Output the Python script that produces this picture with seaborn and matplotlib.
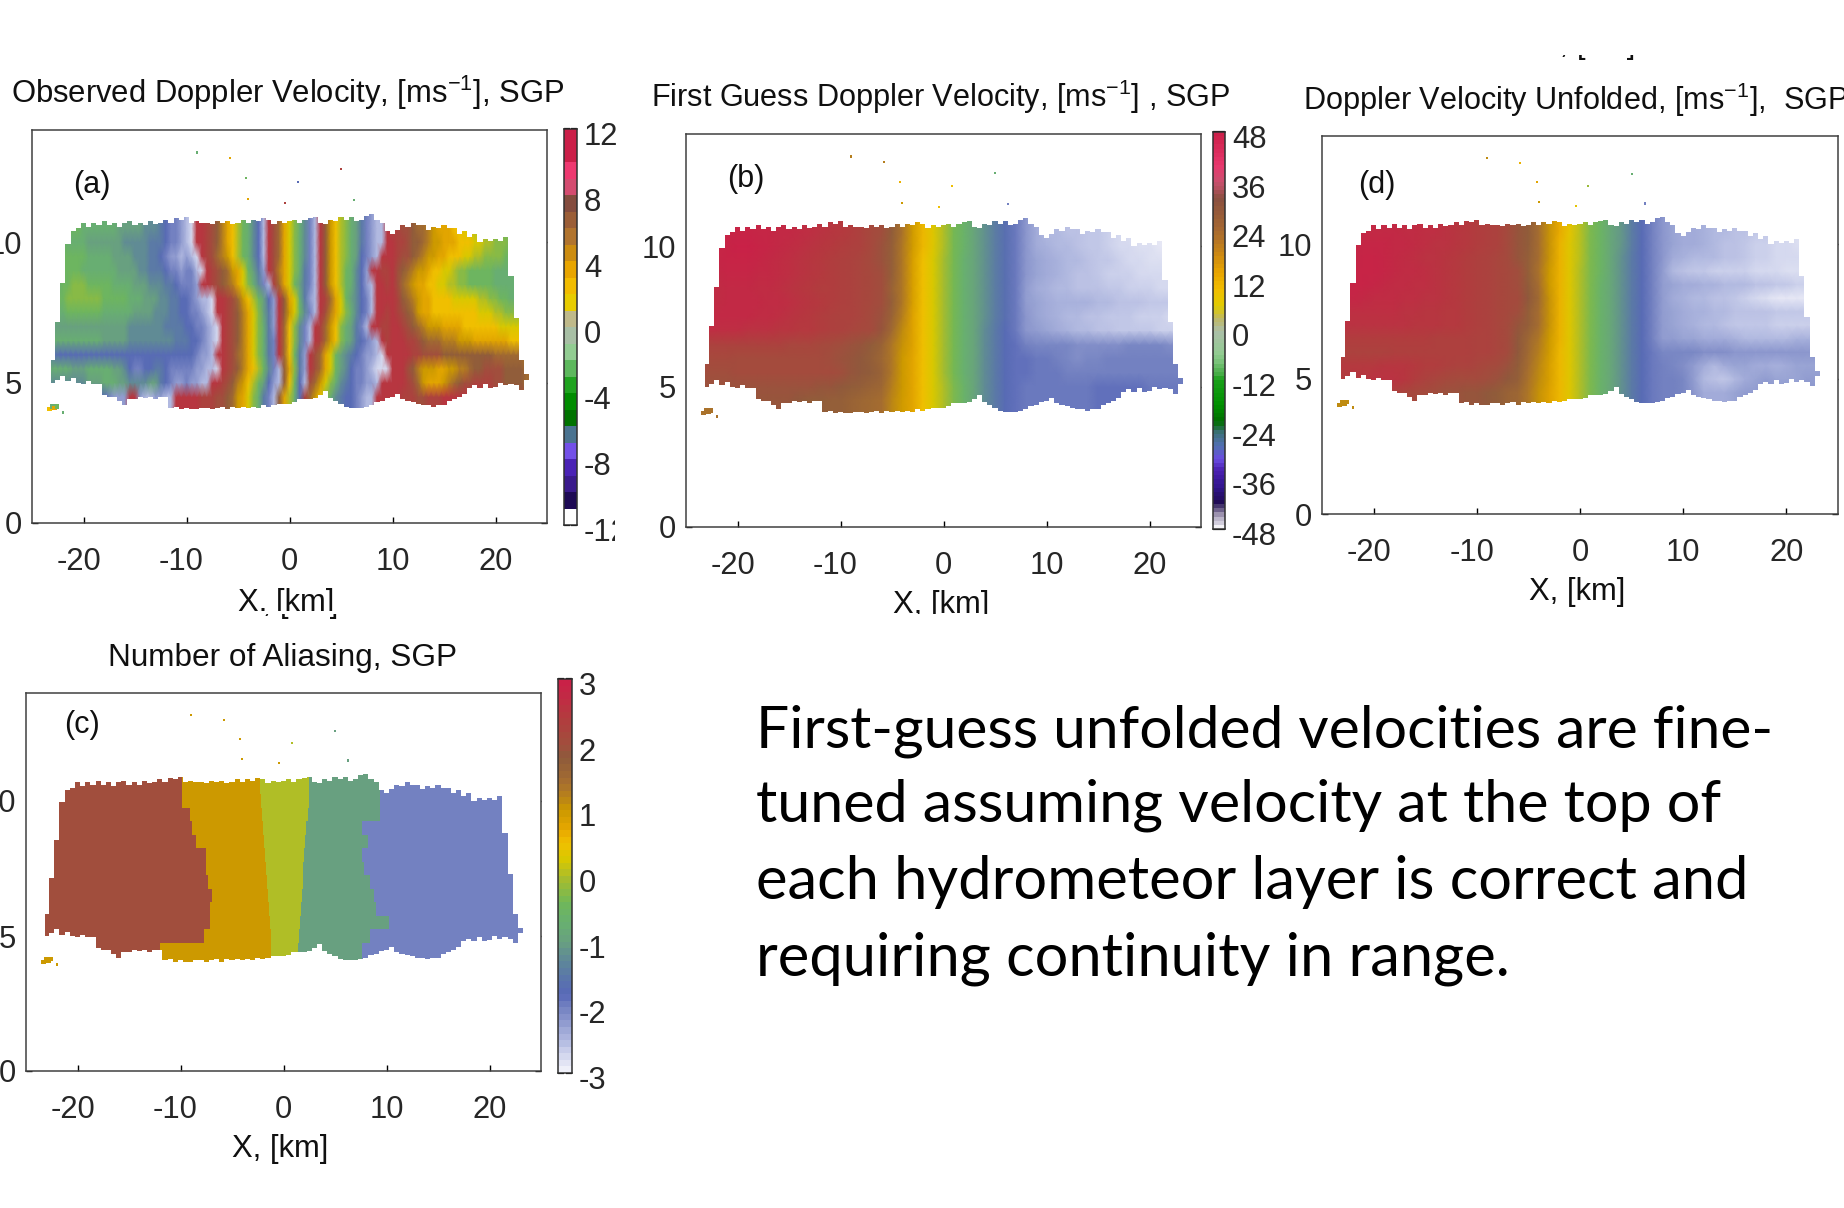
import numpy as np
import matplotlib
matplotlib.use("Agg")
import matplotlib.pyplot as plt
import seaborn as sns
from matplotlib.colors import LinearSegmentedColormap, ListedColormap
from matplotlib.transforms import Bbox, TransformedBbox, ScaledTranslation

W, H = 1844, 1208

sns.set_style("white")
plt.rcParams["font.family"] = ["Liberation Sans", "DejaVu Sans"]
plt.rcParams["mathtext.fontset"] = "custom"
plt.rcParams["mathtext.rm"] = "Liberation Sans"
plt.rcParams["mathtext.default"] = "rm"

# cloud outline, x = -23 ... 23 km every 0.5 km
cloud_top = [5.8, 7.15, 8.55, 9.95, 10.4, 10.5, 10.7, 10.55, 10.7, 10.6, 10.75, 10.6, 10.7, 10.55, 10.7, 10.75, 10.6, 10.7, 10.6, 10.75, 10.65, 10.7, 10.8, 10.7, 10.85, 10.8,
             10.9, 10.7, 10.75, 10.7, 10.7, 10.65, 10.75, 10.7, 10.75, 10.65, 10.7, 10.8, 10.7, 10.8, 10.75, 10.85, 10.8, 10.65, 10.75, 10.7, 10.75, 10.8, 10.7, 10.8, 10.85, 10.9, 10.7, 10.65, 10.8, 10.75, 10.9, 10.8, 10.9, 10.75, 10.8, 10.95, 11.0, 10.8, 10.7, 10.4,
             10.3, 10.45, 10.6, 10.55, 10.7, 10.6, 10.6, 10.45, 10.55, 10.5, 10.6, 10.5, 10.5, 10.3, 10.4, 10.2, 10.3, 10.0, 10.1, 10.05, 10.1, 10.05, 10.2, 8.8, 7.3, 5.8, 5.3]
cloud_base = [5.0, 5.1, 5.25, 5.05, 5.15, 5.0, 4.95, 5.05, 4.95, 4.95, 4.55, 4.5, 4.5, 4.35, 4.2, 4.4, 4.4, 4.5, 4.45, 4.5, 4.4, 4.5, 4.5, 4.1, 4.15, 4.05,
              4.1, 4.05, 4.05, 4.1, 4.1, 4.05, 4.1, 4.15, 4.05, 4.15, 4.1, 4.15, 4.1, 4.15, 4.1, 4.2, 4.15, 4.2, 4.25, 4.25, 4.25, 4.3, 4.4, 4.4, 4.4, 4.45, 4.55, 4.7, 4.45, 4.35, 4.25, 4.15, 4.1, 4.1, 4.1, 4.15, 4.2, 4.3, 4.35, 4.45,
              4.5, 4.6, 4.4, 4.35, 4.3, 4.25, 4.2, 4.2, 4.15, 4.2, 4.2, 4.35, 4.4, 4.5, 4.6, 4.8, 4.9, 4.8, 4.95, 4.8, 4.85, 5.0, 4.9, 4.95, 4.9, 4.75, 5.1]

speck_x = [-9.0, -5.8, 5.0, -4.2, 0.8, -4.0, -0.4, 6.3, -23.3, -23.0, -22.8, -22.6, -22.0]
speck_y = [13.2, 13.0, 12.6, 12.3, 12.15, 11.55, 11.4, 11.5, 4.05, 4.15, 4.1, 4.15, 3.95]
speck_a = [-3, 3, 9, -2, -7, 3, 9, -3, 2, -3, 3, -2, -3]
speck_b = [20, 20, -12, 10, 8, 16, 8, -32, 22, 22, 22, 22, 22]
speck_c = [1, 1, -1, 1, 0, 1, 1, -1, 1, 1, 1, 1, 1]
speck_d = [18, 10, -12, 12, -2, 16, 6, -32, 18, 18, 18, 18, 18]
speck_sizes = [2.5, 2.5, 2.5, 2.5, 2.5, 2.5, 2.5, 2.5, 9, 12, 12, 9, 4]

# panel (a) heights 10.5 ... 4.5 km every 0.5 km; split at x = -10 and x = 10
a_west = [
    [-2, -2, -2, -2, -2, -2, -3, -3, -3, -3, -3, -3, -3, -4, -4, -4, -4, -4, -5, -5, -5, -6, -7, -8, -8, -9],
    [-2, -2, -2, -3, -3, -3, -3, -4, -4, -4, -4, -4, -4, -4, -5, -5, -5, -5, -5, -6, -6, -6, -7, -8, -8, -9],
    [-2, -2, -2, -2, -2, -2, -2, -3, -3, -3, -3, -3, -4, -4, -4, -4, -5, -5, -5, -6, -6, -7, -8, -9, -9, -10],
    [-3, -3, -2, -2, -2, -2, -3, -3, -3, -3, -3, -3, -3, -4, -4, -4, -4, -5, -5, -6, -6, -6, -7, -8, -8, -9],
    [-3, -3, -2, -2, -1, -1, -1, -2, -2, -2, -2, -2, -3, -3, -3, -3, -4, -4, -4, -5, -5, -5, -6, -6, -7, -8],
    [-2, -2, -2, -1, -1, -1, -1, -1, -1, -1, -2, -2, -2, -2, -2, -3, -3, -3, -4, -4, -4, -5, -5, -6, -6, -7],
    [-3, -3, -3, -2, -2, -2, -2, -2, -2, -2, -3, -3, -3, -3, -3, -3, -4, -4, -4, -4, -5, -5, -5, -6, -6, -7],
    [-4, -4, -4, -4, -4, -4, -4, -4, -4, -4, -4, -4, -4, -4, -4, -5, -5, -5, -5, -5, -5, -5, -6, -6, -6, -6],
    [-3, -3, -3, -3, -3, -3, -3, -3, -3, -3, -4, -4, -4, -4, -4, -5, -5, -5, -5, -5, -5, -5, -5, -5, -6, -6],
    [-6, -7, -7, -7, -7, -7, -7, -7, -7, -7, -7, -7, -7, -7, -7, -7, -7, -7, -7, -7, -7, -7, -7, -7, -7, -7],
    [-3, -3, -3, -3, -4, -4, -4, -3, -3, -3, -3, -3, -4, -4, -5, -7, -8, -8, -7, -7, -6, -6, -7, -8, -8, -8],
    [-5, -5, -5, -5, -5, -5, -5, -4, -4, -4, -3, -3, -3, -4, -4, -5, -5, -5, -5, -4, -4, -6, -7, -8, -9, -9],
    [-8, -8, -8, -8, -8, -8, -8, -8, -7, -7, -7, -8, -9, -9, -9, 10, 10, -9, -10, -10, -9, -9, -10, -10, 10, 10],
]
a_mid = [
    [-10, -11, 10, 10, 9, 8, 7, 5, 3, 2, 0, -2, -3, -5, -7, -10, 10, 8, 6, 3, 1, -1, -3, -5, -8, -10, 10, 7, 4, 2, 0, -1, -3, -4, -6, -8, -9, -10, -10, 10],
    [-10, -11, 10, 10, 9, 8, 7, 5, 3, 2, 0, -2, -3, -5, -7, -10, 10, 8, 6, 3, 1, -1, -3, -5, -8, -10, 10, 7, 4, 2, 0, -1, -3, -4, -6, -8, -9, -10, -10, 10],
    [-9, -10, -11, 10, 9, 8, 6, 5, 4, 2, 0, -2, -3, -5, -7, -10, 10, 8, 6, 3, 1, -1, -3, -5, -8, -10, 10, 7, 4, 2, 0, -1, -3, -4, -7, -8, -9, -10, 10, 10],
    [-8, -8, -10, -11, 10, 9, 8, 7, 6, 4, 3, 1, -2, -4, -6, -9, 10, 8, 5, 3, 1, -1, -3, -6, -8, -10, 10, 7, 4, 2, 0, -2, -3, -5, -7, -9, 10, 10, 9, 9],
    [-8, -8, -9, 10, 10, 9, 8, 7, 6, 5, 3, 1, -1, -3, -5, -8, -10, 9, 6, 3, 1, -2, -4, -6, -8, -10, 10, 7, 4, 2, 0, -2, -3, -5, -7, -9, -10, 10, 10, 9],
    [-7, -8, -9, -10, -10, -11, 10, 10, 9, 8, 6, 4, 2, 0, -2, -4, -7, -9, 10, 7, 3, 1, -3, -6, -9, -10, 10, 9, 6, 3, 1, -2, -4, -5, -7, -8, -10, 10, 10, 10],
    [-7, -8, -8, -9, -10, -11, 10, 10, 9, 8, 7, 5, 3, 1, -1, -4, -6, -9, 10, 7, 4, 1, -2, -5, -8, -10, 10, 8, 5, 3, 1, -1, -3, -5, -7, -8, -10, 10, 10, 9],
    [-7, -7, -8, -8, -9, -10, -11, 10, 9, 8, 7, 5, 3, 1, -1, -3, -6, -9, 10, 6, 2, -1, -5, -8, -10, 10, 9, 6, 4, 2, -1, -3, -4, -6, -8, -10, 10, 10, 9, 9],
    [-6, -7, -7, -8, -9, -10, -11, 10, 9, 8, 7, 5, 3, 1, -1, -3, -6, -8, 10, 6, 2, -1, -5, -8, -10, 10, 9, 6, 4, 2, -1, -3, -4, -6, -7, -8, -9, -10, 10, 9],
    [-7, -7, -8, -9, -9, -10, 10, 10, 9, 8, 6, 5, 3, 1, -1, -3, -6, -8, 10, 6, 2, -2, -6, -9, 10, 8, 6, 3, 1, -2, -4, -5, -6, -7, -8, -9, -9, -10, -11, 10],
    [-8, -8, -9, -9, -10, -10, -11, 10, 9, 8, 7, 5, 3, 2, 0, -2, -5, -8, -10, 7, 3, -1, -6, -9, 10, 8, 6, 3, 1, -2, -4, -5, -7, -8, -8, -9, -10, -11, -11, -11],
    [-8, -9, -9, -10, -10, 10, 10, 9, 8, 7, 5, 4, 2, 0, -2, -4, -7, -9, -10, 7, 2, -2, -7, -10, 8, 6, 4, 1, -1, -3, -5, -6, -7, -8, -8, -9, -9, -10, 10, 10],
    [10, 10, 10, 9, 9, 9, 8, 8, 7, 6, 4, 3, 1, -1, -3, -6, -8, -10, 7, 3, 0, -3, -7, 9, 6, 4, 2, -1, -3, -5, -6, -7, -7, -8, -9, -10, -10, 10, 10, 10],
]
a_east = [
    [9, 9, 8, 8, 7, 6, 6, 5, 4, 3, 3, 3, 2, 2, 1, 1, 0, 0, -1, -1, -1, -2, -2, -2, -2, -2, -2],
    [10, 9, 9, 8, 7, 7, 6, 5, 4, 4, 3, 3, 3, 2, 2, 2, 1, 1, 0, 0, -1, -1, -1, -2, -2, -2, -2],
    [10, 9, 8, 8, 7, 6, 5, 4, 4, 3, 3, 2, 2, 2, 1, 1, 0, 0, -1, -1, -1, -1, -2, -2, -2, -2, -2],
    [10, 8, 7, 6, 5, 4, 4, 3, 2, 2, 1, 1, 0, -1, -1, -2, -2, -2, -2, -2, -3, -3, -3, -3, -3, -3, -3],
    [10, 8, 6, 5, 4, 3, 3, 2, 2, 1, 1, 0, 0, -1, -1, -2, -2, -2, -2, -2, -3, -3, -3, -3, -3, -3, -3],
    [10, 9, 7, 6, 5, 4, 3, 3, 2, 2, 2, 2, 1, 1, 1, 1, 1, 0, 0, -1, -1, -2, -2, -3, -3, -3, -3],
    [10, 9, 8, 7, 6, 4, 3, 3, 2, 2, 2, 2, 2, 2, 2, 2, 2, 1, 1, 1, 0, 0, -1, -1, -1, -1, -1],
    [10, 10, 9, 8, 7, 6, 5, 4, 4, 4, 3, 3, 3, 3, 2, 2, 2, 2, 2, 2, 2, 1, 1, 1, 1, 1, 1],
    [10, 10, 10, 9, 9, 8, 7, 6, 6, 6, 5, 5, 5, 4, 4, 4, 3, 3, 3, 3, 3, 3, 3, 2, 2, 2, 2],
    [10, 10, 10, 10, 9, 9, 8, 8, 8, 8, 7, 7, 7, 7, 7, 7, 7, 7, 7, 7, 6, 6, 6, 6, 6, 6, 5],
    [10, 10, 10, 8, 7, 5, 4, 4, 4, 3, 3, 4, 4, 5, 5, 6, 7, 7, 8, 8, 8, 8, 7, 7, 7, 7, 6],
    [10, 10, 10, 9, 8, 6, 4, 3, 3, 3, 4, 5, 6, 7, 8, 8, 9, 9, 9, 9, 8, 8, 7, 7, 7, 7, 6],
    [10, 10, 9, 9, 9, 8, 8, 9, 9, 9, 10, 10, 10, 10, 10, 10, 10, 10, 10, 9, 9, 9, 9, 9, 8, 8, 8],
]

# panel (b) heights 10.5 ... 4.5 km, x = -23 ... 23 km every 1 km; split at x = -5 and x = 9
b_west = [
    [46, 46, 46, 46, 46, 45, 45, 44, 44, 43, 42, 41, 40, 39, 38, 36, 34, 32],
    [46, 46, 46, 47, 47, 46, 45, 44, 43, 42, 41, 40, 39, 38, 37, 36, 34, 31],
    [45, 45, 46, 46, 46, 45, 44, 43, 42, 41, 40, 39, 38, 37, 36, 35, 33, 31],
    [44, 44, 45, 45, 45, 44, 44, 43, 42, 41, 40, 39, 38, 37, 36, 35, 34, 32],
    [43, 43, 44, 44, 44, 43, 43, 42, 41, 40, 39, 38, 38, 37, 36, 35, 34, 32],
    [43, 43, 44, 44, 44, 44, 43, 43, 42, 41, 40, 39, 38, 37, 36, 35, 34, 32],
    [44, 44, 44, 44, 44, 43, 43, 42, 41, 40, 39, 38, 37, 36, 36, 35, 33, 31],
    [42, 42, 42, 42, 41, 41, 41, 40, 40, 39, 39, 38, 37, 36, 35, 34, 33, 30],
    [36, 36, 36, 36, 36, 36, 36, 36, 35, 35, 35, 34, 33, 32, 31, 30, 28, 26],
    [34, 34, 34, 33, 33, 33, 33, 33, 33, 33, 33, 33, 32, 31, 30, 29, 27, 25],
    [32, 32, 32, 33, 33, 33, 33, 33, 33, 33, 33, 33, 33, 32, 30, 29, 28, 26],
    [31, 31, 31, 31, 31, 31, 31, 31, 31, 31, 31, 30, 30, 29, 28, 27, 26, 25],
    [30, 30, 30, 30, 30, 30, 30, 30, 30, 29, 28, 28, 27, 27, 26, 25, 24, 23],
]
b_mid = [
    [28, 22, 15, 9, 5, 0, -6, -10, -15, -19, -23, -27, -31, -35],
    [27, 21, 15, 9, 5, 0, -6, -10, -15, -19, -23, -27, -31, -35],
    [27, 21, 14, 8, 4, -1, -6, -11, -15, -19, -23, -27, -31, -35],
    [27, 21, 14, 8, 4, -1, -6, -11, -15, -19, -23, -27, -31, -35],
    [26, 21, 14, 8, 4, -1, -6, -11, -15, -19, -23, -27, -31, -36],
    [27, 21, 14, 8, 4, -1, -6, -11, -15, -19, -23, -27, -31, -36],
    [26, 20, 13, 8, 4, -1, -6, -11, -15, -19, -23, -27, -31, -35],
    [24, 18, 13, 8, 4, -1, -6, -11, -15, -20, -24, -28, -31, -35],
    [21, 17, 13, 8, 4, -1, -6, -11, -15, -20, -24, -28, -30, -32],
    [21, 16, 12, 8, 4, -1, -6, -11, -15, -20, -24, -28, -30, -30],
    [21, 16, 12, 8, 4, -1, -6, -11, -15, -20, -24, -28, -30, -30],
    [20, 16, 12, 8, 4, 0, -5, -10, -15, -20, -24, -28, -30, -31],
    [19, 15, 12, 8, 4, 0, -5, -10, -15, -20, -24, -28, -30, -31],
]
b_east = [
    [-38, -40, -40, -41, -41, -42, -42, -43, -44, -45, -45, -46, -46, -46, -46],
    [-38, -39, -40, -40, -41, -42, -42, -43, -44, -44, -45, -45, -46, -46, -46],
    [-37, -38, -39, -40, -40, -41, -42, -42, -43, -44, -44, -45, -45, -45, -45],
    [-37, -38, -39, -40, -41, -41, -42, -43, -43, -43, -44, -44, -44, -44, -44],
    [-38, -39, -40, -40, -41, -41, -41, -42, -42, -43, -43, -43, -44, -44, -44],
    [-37, -38, -39, -39, -39, -39, -40, -40, -41, -41, -41, -42, -42, -42, -42],
    [-37, -38, -39, -40, -40, -41, -41, -42, -42, -42, -43, -43, -43, -44, -44],
    [-36, -37, -38, -39, -40, -40, -41, -41, -42, -42, -42, -42, -43, -43, -43],
    [-33, -33, -33, -33, -34, -34, -34, -34, -34, -33, -33, -33, -33, -34, -34],
    [-31, -31, -32, -33, -34, -33, -33, -32, -32, -32, -32, -32, -32, -32, -32],
    [-31, -31, -31, -32, -32, -32, -32, -32, -32, -32, -32, -32, -32, -32, -32],
    [-31, -31, -31, -31, -31, -31, -30, -30, -30, -30, -30, -31, -31, -31, -31],
    [-31, -31, -31, -31, -31, -31, -30, -30, -30, -30, -30, -31, -31, -31, -31],
]

# panel (d), same grid as (b)
d_west = [
    [44, 44, 44, 44, 44, 44, 43, 43, 42, 42, 41, 40, 39, 38, 37, 36, 33, 30],
    [45, 45, 45, 45, 45, 44, 44, 43, 42, 41, 41, 40, 39, 38, 37, 36, 33, 30],
    [45, 45, 46, 46, 45, 44, 43, 42, 41, 41, 40, 39, 38, 37, 36, 35, 33, 30],
    [46, 46, 46, 46, 45, 44, 43, 43, 42, 41, 40, 39, 38, 37, 36, 35, 34, 32],
    [45, 46, 46, 45, 44, 43, 43, 42, 42, 41, 40, 39, 38, 37, 36, 35, 34, 32],
    [44, 45, 44, 43, 43, 43, 42, 42, 41, 41, 40, 39, 38, 37, 36, 35, 34, 33],
    [42, 42, 42, 42, 42, 42, 41, 41, 40, 40, 39, 39, 38, 37, 36, 35, 34, 32],
    [41, 41, 41, 41, 41, 41, 41, 40, 40, 40, 39, 39, 38, 37, 36, 35, 33, 30],
    [38, 38, 38, 38, 38, 38, 38, 38, 38, 37, 37, 37, 37, 36, 36, 35, 33, 29],
    [36, 36, 36, 36, 36, 37, 37, 37, 37, 37, 37, 37, 37, 36, 36, 35, 33, 29],
    [39, 39, 39, 39, 40, 40, 40, 39, 38, 38, 37, 36, 36, 35, 34, 33, 31, 28],
    [38, 39, 40, 41, 41, 41, 40, 38, 36, 35, 34, 33, 33, 33, 32, 31, 29, 27],
    [36, 36, 36, 36, 36, 36, 35, 34, 33, 32, 31, 31, 30, 30, 29, 28, 26, 25],
]
d_mid = [
    [28, 23, 17, 11, 6, 1, -5, -9, -14, -18, -23, -28, -32, -35],
    [28, 23, 17, 10, 5, 1, -5, -9, -14, -18, -23, -28, -32, -35],
    [27, 23, 17, 10, 5, 1, -5, -9, -14, -19, -24, -28, -32, -35],
    [27, 22, 16, 10, 5, 0, -5, -9, -14, -19, -24, -28, -32, -36],
    [28, 23, 16, 10, 5, 0, -5, -10, -14, -19, -24, -28, -32, -36],
    [29, 24, 17, 10, 5, 0, -5, -10, -14, -19, -24, -28, -32, -36],
    [27, 23, 17, 10, 5, 0, -5, -10, -14, -19, -24, -28, -32, -36],
    [27, 23, 17, 10, 5, 0, -5, -10, -14, -19, -24, -28, -32, -36],
    [25, 21, 16, 10, 5, 0, -5, -10, -14, -19, -24, -28, -32, -36],
    [24, 20, 15, 9, 5, 0, -5, -10, -14, -19, -24, -28, -31, -33],
    [23, 19, 14, 9, 5, 0, -5, -10, -14, -19, -24, -28, -31, -32],
    [22, 18, 14, 9, 5, 0, -5, -10, -14, -19, -24, -28, -31, -32],
    [21, 17, 13, 9, 5, 0, -5, -10, -14, -19, -24, -28, -31, -32],
]
d_east = [
    [-37, -38, -38, -39, -40, -40, -41, -41, -42, -42, -43, -44, -45, -45, -45],
    [-37, -38, -38, -39, -40, -41, -41, -42, -43, -43, -44, -44, -45, -45, -45],
    [-38, -39, -40, -40, -40, -41, -41, -42, -43, -43, -44, -44, -44, -44, -44],
    [-40, -41, -42, -42, -43, -43, -43, -43, -44, -44, -44, -45, -45, -45, -45],
    [-37, -38, -38, -39, -39, -40, -40, -40, -41, -41, -42, -42, -43, -43, -43],
    [-38, -39, -40, -40, -41, -41, -42, -43, -44, -45, -46, -46, -46, -46, -46],
    [-37, -38, -39, -39, -40, -40, -41, -41, -41, -41, -42, -42, -42, -42, -42],
    [-37, -38, -39, -40, -40, -41, -42, -42, -42, -42, -43, -43, -43, -43, -43],
    [-36, -37, -37, -38, -38, -38, -39, -40, -40, -40, -40, -40, -39, -39, -39],
    [-33, -33, -33, -34, -34, -34, -35, -35, -35, -35, -35, -35, -35, -35, -35],
    [-33, -34, -36, -38, -40, -38, -37, -37, -38, -38, -39, -38, -37, -37, -37],
    [-32, -33, -36, -40, -41, -42, -40, -38, -37, -36, -37, -37, -37, -36, -36],
    [-32, -33, -35, -38, -38, -38, -37, -36, -36, -35, -35, -35, -35, -35, -35],
]

# panel (c): x where the aliasing number steps down, heights 10.5 ... 4.5 km
edge_2_1 = [-9.9, -9.9, -9.1, -8.9, -8.5, -7.5, -7.5, -7.3, -6.9, -7.1, -7.1, -7.7, -12.0]
edge_1_0 = [-2.3, -2.2, -2.1, -2.0, -1.9, -1.8, -1.7, -1.6, -1.5, -1.4, -1.3, -1.2, -1.2]
edge_0_m1 = [2.5, 2.5, 2.4, 2.2, 2.1, 2.0, 1.9, 1.9, 1.8, 1.7, 1.6, 1.5, 1.4]
edge_m1_m2 = [9.4, 9.4, 9.4, 7.6, 8.2, 7.6, 7.8, 8.4, 8.8, 9.0, 10.2, 8.4, 7.6]

field_stops = [(-3, "#F6F6FC"), (-2.5, "#B0B8E0"), (-2, "#7280C0"), (-1.8, "#5868B8"), (-1.4, "#5C80A0"),
               (-1, "#68A080"), (-0.7, "#68B070"), (-0.4, "#70B858"), (0, "#AEBD28"), (0.25, "#D8C800"),
               (0.5, "#F0C000"), (0.7, "#E8A800"), (1, "#CC9900"), (1.4, "#A8702E"), (1.8, "#8E5A3C"),
               (2, "#A04F3D"), (2.4, "#B23C3E"), (2.7, "#C02C44"), (3, "#CB1F48")]
bar_a_colors = ["#CB1F48", "#CB1F48", "#EE3970", "#D44C70", "#844C3E", "#9B5E37", "#B1742E", "#CC8C10",
                "#E8A500", "#F2BC00", "#E8CC00", "#BFB98A", "#A8BFA5", "#92CC92", "#5DB85D", "#1FA31F",
                "#008C00", "#007300", "#4A7390", "#7350E8", "#4A22B5", "#3A1A8C", "#1E0A55", "#FFFFFF"]
bar_b_stops = [(-48, "#FFFFFF"), (-47, "#E0DDE8"), (-44, "#8A7FA0"), (-42, "#1E0A50"), (-38, "#30148C"),
               (-34, "#4A20B0"), (-31, "#6A4CE0"), (-28, "#5070B0"), (-25, "#3F7080"), (-22, "#006E00"),
               (-18, "#009000"), (-12, "#18A018"), (-10, "#50B050"), (-6, "#90CC90"), (0, "#ACBFA8"),
               (3, "#C0B860"), (6, "#E0CC00"), (10, "#F2BE00"), (14, "#E8A500"), (18, "#D08C10"),
               (24, "#A86A30"), (32, "#8A5040"), (36, "#C8506E"), (40, "#E8386E"), (48, "#CB1F48")]

field_cmap = LinearSegmentedColormap.from_list("field", [((v + 3) / 6, c) for v, c in field_stops])
bar_b_cmap = LinearSegmentedColormap.from_list("bar_b", [((v + 48) / 96, c) for v, c in bar_b_stops])
bar_a_cmap = ListedColormap(bar_a_colors[::-1])

x_half = np.arange(-23, 23.5, 0.5)
x_half_wide = np.arange(-23.5, 24, 0.5)
x_fine = np.arange(-23.25, 23.3, 0.1)
x_one = np.arange(-24, 25)
rows_km = np.arange(4, 11.5, 0.5)


def stack_rows(*parts):
    table = np.hstack([np.array(p, float) for p in parts])[::-1]
    # top and bottom row repeat the nearest read row, end columns the nearest read column
    table = np.vstack([table[:1], table, table[-1:]])
    return np.pad(table, ((0, 0), (1, 1)), mode="edge")


table_a = stack_rows(a_west, a_mid, a_east)
table_b = stack_rows(b_west, b_mid, b_east)
table_d = stack_rows(d_west, d_mid, d_east)

edges = np.array([edge_2_1, edge_1_0, edge_0_m1, edge_m1_m2])[:, ::-1]
edges = np.hstack([edges[:, :1], edges, edges[:, -1:]])
table_c = np.array([2.0 - np.sum(x_fine[None, :] > edges[:, i][:, None], axis=0) for i in range(len(rows_km))])

fig = plt.figure(figsize=(W / 100, H / 100), dpi=100)
FS = 22.3


def px_axes(x0, y0, x1, y1):
    return fig.add_axes([x0 / W, 1 - y1 / H, (x1 - x0) / W, (y1 - y0) / H])


def clip_y(artist, y_top, y_bot):
    artist.set_clip_box(TransformedBbox(Bbox([[0, 1 - y_bot / H], [1, 1 - y_top / H]]), fig.transFigure))
    artist.set_clip_on(True)


def nudge(label, dx, dy):
    label.set_transform(label.get_transform() + ScaledTranslation(dx / 100, -dy / 100, fig.dpi_scale_trans))


def draw_panel(box, table, cols, vmin, vmax, specks, shading="flat"):
    ax = px_axes(*box)
    kw = {"shading": "gouraud"} if shading == "gouraud" else {}
    sns.heatmap(table, ax=ax, cmap=field_cmap, vmin=vmin, vmax=vmax, cbar=False,
                xticklabels=False, yticklabels=False, **kw)
    off = 0 if shading == "gouraud" else 0.5
    dx = cols[1] - cols[0]
    to_x = lambda v: (np.asarray(v, float) - cols[0]) / dx + off
    to_y = lambda v: (np.asarray(v, float) - rows_km[0]) / 0.5 + off
    low, high = to_y(3), to_y(14.5)
    mask_x = to_x(np.r_[-23.25, x_half, 23.25])
    ax.fill_between(mask_x, to_y(np.r_[cloud_base[0], cloud_base, cloud_base[-1]]), low,
                    step="mid", color="white", lw=0, zorder=2)
    ax.fill_between(mask_x, to_y(np.r_[cloud_top[0], cloud_top, cloud_top[-1]]), high,
                    step="mid", color="white", lw=0, zorder=2)
    ax.axvspan(to_x(-26), to_x(-23.2), color="white", lw=0, zorder=2)
    ax.axvspan(to_x(23.25), to_x(26), color="white", lw=0, zorder=2)
    ax.scatter(to_x(speck_x), to_y(speck_y), c=specks, s=speck_sizes, cmap=field_cmap, vmin=vmin, vmax=vmax,
               marker="s", lw=0, zorder=3)
    ax.set_xlim(to_x(-25), to_x(25))
    ax.set_ylim(to_y(0), to_y(14))
    ax.set_xticks(to_x([-20, -10, 0, 10, 20]))
    ax.set_xticklabels(["-20", "-10", "0", "10", "20"], rotation=0)
    ax.set_yticks(to_y([0, 5, 10]))
    ax.set_yticklabels(["0", "5", "10"], rotation=0)
    ax.tick_params(axis="x", direction="in", top=True, bottom=True, length=4.5, width=1, color="black",
                   labelsize=FS, pad=17)
    ax.tick_params(axis="y", direction="in", left=True, right=True, length=4.5, width=1, color="black",
                   labelsize=FS, pad=7)
    for lab in ax.get_xticklabels()[:2]:
        nudge(lab, -5, 0)
    for s in ax.spines.values():
        s.set_visible(True)
        s.set_color("#404040")
        s.set_linewidth(1.1)
    return ax


def draw_bar(box, cmap, vmax, n, ticks):
    ax = px_axes(*box)
    step = 2 * vmax / n
    levels = np.arange(n)[::-1] * step - vmax + step / 2
    sns.heatmap(levels.reshape(-1, 1), ax=ax, cmap=cmap, vmin=-vmax, vmax=vmax, cbar=False,
                xticklabels=False, yticklabels=False)
    ax.set_yticks([(vmax - t) / step for t in ticks])
    ax.set_yticklabels([str(t) for t in ticks], rotation=0)
    ax.yaxis.tick_right()
    ax.tick_params(axis="y", direction="in", left=True, right=True, length=4, width=1.6, color="black",
                   labelsize=FS, pad=5)
    for lab in ax.get_yticklabels():
        lab.set_verticalalignment("center")
        nudge(lab, 0, 8)
    for s in ax.spines.values():
        s.set_visible(True)
        s.set_color("#303030")
        s.set_linewidth(1.1)
    return ax


draw_panel((32, 130, 547, 523), table_a, x_half_wide, -12, 12, speck_a, "gouraud")
draw_panel((686, 134, 1201, 527), table_b, x_one, -48, 48, speck_b, "gouraud")
draw_panel((1322, 136, 1838, 514), table_d, x_one, -48, 48, speck_d, "gouraud")
draw_panel((26, 693, 541, 1071), table_c, x_fine, -3, 3, speck_c)

bar_a = draw_bar((564, 129, 577, 525), bar_a_cmap, 12, 24, [12, 8, 4, 0, -4, -8, -12])
draw_bar((1213, 132, 1225, 529), bar_b_cmap, 48, 96, [48, 36, 24, 12, 0, -12, -24, -36, -48])
draw_bar((558, 679, 572, 1073), field_cmap, 3, 60, [3, 2, 1, 0, -1, -2, -3])

# the -12 label runs into the next picture and is cut there
last = bar_a.get_yticklabels()[-1]
last.set_clip_box(TransformedBbox(Bbox([[0, 0], [615 / W, 1]]), fig.transFigure))
last.set_clip_on(True)

titles = [(11, 103, r"Observed Doppler Velocity, [ms$^{-1}$], SGP", FS),
          (651, 107, r"First Guess Doppler Velocity, [ms$^{-1}$] , SGP", 22.1),
          (1303, 110, r"Doppler Velocity Unfolded, [ms$^{-1}$],  SGP", 22.1),
          (108, 666, "Number of Aliasing, SGP", 22.65)]
for x, y, s, size in titles:
    fig.text(x / W, 1 - y / H, s, fontsize=size, ha="left", va="baseline", color="#101010")

for x, y, s in [(73, 185, "(a)"), (727, 179, "(b)"), (1358, 185, "(d)"), (64, 725, "(c)")]:
    fig.text(x / W, 1 - y / H, s, fontsize=22, ha="left", va="center", color="#101010")

for x, y, cut in [(286, 611, 611), (941, 613, 614), (1577, 600, None), (280, 1157, None)]:
    t = fig.text(x / W, 1 - y / H, "X, [km]", fontsize=FS, ha="center", va="baseline", color="#101010")
    if cut:
        clip_y(t, 0, cut)

# leftovers of labels cut off by neighbouring pictures
for x, y, top, bot in [(290, 612, 614, 620), (1587, 53, 55, 62)]:
    t = fig.text(x / W, 1 - y / H, "X, [km]", fontsize=FS, ha="center", va="baseline", color="#101010")
    clip_y(t, top, bot)

note_lines = ["First-guess unfolded velocities are fine-",
              "tuned assuming velocity at the top of",
              "each hydrometeor layer is correct and",
              "requiring continuity in range."]
note_baselines = [747, 821, 899, 976]
note_sizes = [42.3, 42.7, 42.9, 42.9]
for line, y, size in zip(note_lines, note_baselines, note_sizes):
    fig.text(756 / W, 1 - y / H, line, fontsize=size, family="Lato", ha="left", va="baseline", color="black")

fig.savefig("out.png", dpi=100)
